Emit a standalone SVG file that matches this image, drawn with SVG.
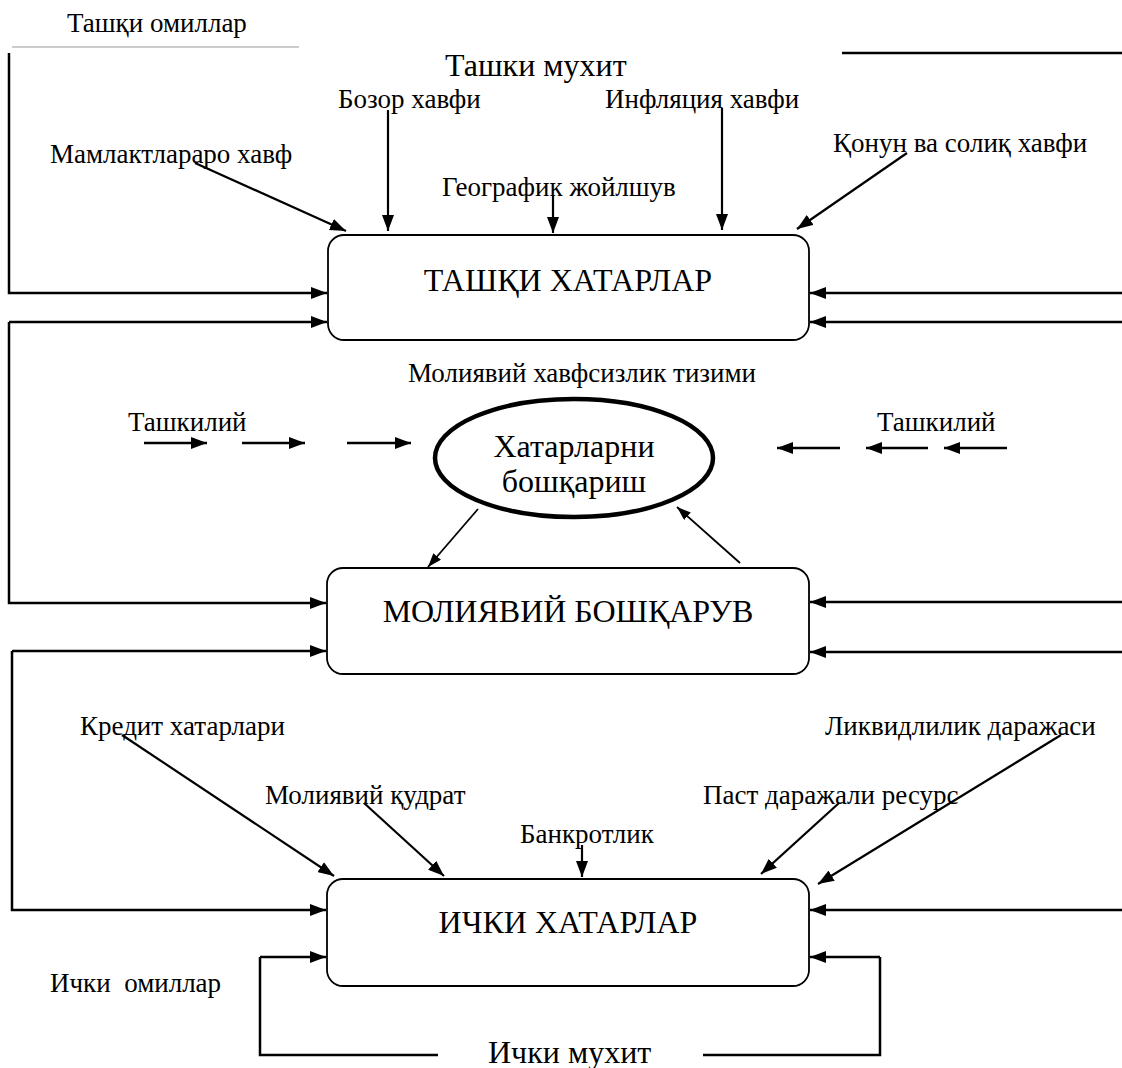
<svg xmlns="http://www.w3.org/2000/svg" width="1122" height="1068" viewBox="0 0 1122 1068">
<style>
text{font-family:"Liberation Serif","DejaVu Serif","Times New Roman",serif;fill:#000}
.lb{font-size:27px}
.big{font-size:32px}
.el{font-size:32px}
.box{fill:#fff;stroke:#000;stroke-width:1.8}
.c{fill:none;stroke:#000;stroke-width:2.5}
.d{fill:none;stroke:#000;stroke-width:2.2}
.t{fill:none;stroke:#000;stroke-width:1.8}
</style>
<defs>
<marker id="ah" viewBox="0 0 16 12" refX="16" refY="6" markerWidth="16" markerHeight="12" markerUnits="userSpaceOnUse" orient="auto"><path d="M0 0L16 6L0 12z" fill="#000"/></marker>
<marker id="as" viewBox="0 0 14 10" refX="14" refY="5" markerWidth="14" markerHeight="10" markerUnits="userSpaceOnUse" orient="auto"><path d="M0 0L14 5L0 10z" fill="#000"/></marker>
</defs>
<g id="labels">
<text class="lb" x="67" y="32">Ташқи омиллар</text>
<text class="big" x="445" y="76">Ташки мухит</text>
<text class="lb" x="338" y="108">Бозор хавфи</text>
<text class="lb" x="50" y="163">Мамлактлараро хавф</text>
<text class="lb" x="442" y="196">Географик жойлшув</text>
<text class="lb" x="605" y="108">Инфляция хавфи</text>
<text class="lb" x="833" y="152">Қонун ва солиқ хавфи</text>
<text class="lb" x="408" y="382">Молиявий хавфсизлик тизими</text>
<text class="lb" x="128" y="431">Ташкилий</text>
<text class="lb" x="877" y="431">Ташкилий</text>
<text class="lb" x="80" y="735">Кредит хатарлари</text>
<text class="lb" x="265" y="804">Молиявий қудрат</text>
<text class="lb" x="520" y="843">Банкротлик</text>
<text class="lb" x="703" y="804">Паст даражали ресурс</text>
<text class="lb" x="825" y="735">Ликвидлилик даражаси</text>
<text class="lb" x="50" y="992" xml:space="preserve">Ички  омиллар</text>
<text class="big" x="488" y="1063">Ички мухит</text>
</g>
<g id="connectors">
<line x1="12" y1="47" x2="299" y2="47" stroke="#999" stroke-width="1"/>
<line x1="842" y1="53" x2="1122" y2="53" stroke="#000" stroke-width="2.5"/>
<path class="c" d="M9 53V293H327" marker-end="url(#ah)"/>
<path class="c" d="M9 322H327" marker-end="url(#ah)"/>
<path class="c" d="M9 322V603H326" marker-end="url(#ah)"/>
<path class="c" d="M12 651H326" marker-end="url(#ah)"/>
<path class="c" d="M12 651V910H326" marker-end="url(#ah)"/>
<path class="c" d="M1122 293H810" marker-end="url(#ah)"/>
<path class="c" d="M1122 322H810" marker-end="url(#ah)"/>
<path class="c" d="M1122 602H810" marker-end="url(#ah)"/>
<path class="c" d="M1122 652H810" marker-end="url(#ah)"/>
<path class="c" d="M1122 910H810" marker-end="url(#ah)"/>
<path class="c" d="M260 957H326" marker-end="url(#ah)"/>
<path class="c" d="M260 957V1055H438"/>
<path class="c" d="M880 957H810" marker-end="url(#ah)"/>
<path class="c" d="M880 957V1055H703"/>
<path class="d" d="M195 163L346 231" marker-end="url(#ah)"/>
<path class="d" d="M388 110V231" marker-end="url(#ah)"/>
<path class="d" d="M553 196V233" marker-end="url(#ah)"/>
<path class="d" d="M722 108V230" marker-end="url(#ah)"/>
<path class="d" d="M907 153L797 229" marker-end="url(#ah)"/>
<path class="t" d="M478 509L428 567" marker-end="url(#as)"/>
<path class="t" d="M740 563L677 507" marker-end="url(#as)"/>
<path class="c" d="M144 443H207" marker-end="url(#ah)"/>
<path class="c" d="M242 443H305" marker-end="url(#ah)"/>
<path class="c" d="M347 443H411" marker-end="url(#ah)"/>
<path class="c" d="M840 448H777" marker-end="url(#ah)"/>
<path class="c" d="M928 448H866" marker-end="url(#ah)"/>
<path class="c" d="M1007 448H944" marker-end="url(#ah)"/>
<path class="d" d="M122 735L334 876" marker-end="url(#ah)"/>
<path class="d" d="M364 803L444 876" marker-end="url(#ah)"/>
<path class="d" d="M582 845V877" marker-end="url(#ah)"/>
<path class="d" d="M839 803L761 874" marker-end="url(#ah)"/>
<path class="d" d="M1061 735L818 884" marker-end="url(#ah)"/>
</g>
<g id="node-external">
<rect class="box" x="328" y="235" width="481" height="105" rx="16"/>
<text class="big" x="568" y="291" text-anchor="middle">ТАШҚИ ХАТАРЛАР</text>
</g>
<g id="node-risk-management">
<ellipse cx="574" cy="458" rx="139" ry="59" fill="#fff" stroke="#000" stroke-width="4.5"/>
<text class="el" x="574" y="457" text-anchor="middle">Хатарларни</text>
<text class="el" x="574" y="492" text-anchor="middle">бошқариш</text>
</g>
<g id="node-financial-management">
<rect class="box" x="327" y="568" width="482" height="106" rx="16"/>
<text class="big" x="568" y="622" text-anchor="middle">МОЛИЯВИЙ БОШҚАРУВ</text>
</g>
<g id="node-internal">
<rect class="box" x="327" y="879" width="482" height="107" rx="16"/>
<text class="big" x="568" y="933" text-anchor="middle">ИЧКИ ХАТАРЛАР</text>
</g>
</svg>
